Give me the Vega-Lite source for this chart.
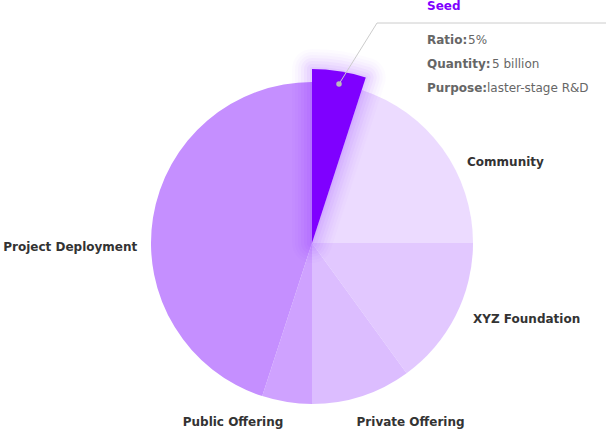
{
  "$schema": "https://vega.github.io/schema/vega-lite/v6.json",
  "width": 588,
  "height": 376,
  "padding": {"left": 18, "top": 55, "right": 0, "bottom": 0},
  "autosize": {"type": "none"},
  "config": {"view": {"stroke": null}, "font": "DejaVu Sans"},
  "layer": [
    {
      "data": {"values": [
        {"name": "Seed", "value": 5},
        {"name": "Community", "value": 20},
        {"name": "XYZ Foundation", "value": 15},
        {"name": "Private Offering", "value": 10},
        {"name": "Public Offering", "value": 5},
        {"name": "Project Deployment", "value": 45}
      ]},
      "transform": [{"window": [{"op": "row_number", "as": "rank"}]}],
      "encoding": {
        "theta": {"field": "value", "type": "quantitative", "stack": true},
        "order": {"field": "rank", "type": "quantitative"},
        "color": {
          "field": "name", "type": "nominal", "legend": null,
          "scale": {
            "domain": ["Seed", "Community", "XYZ Foundation", "Private Offering", "Public Offering", "Project Deployment"],
            "range": ["#7F00FF", "#ECDBFF", "#E2C8FF", "#DCBDFF", "#CFA2FF", "#C58FFF"]
          }
        }
      },
      "layer": [
        {
          "mark": {"type": "arc", "outerRadius": 161},
          "encoding": {"opacity": {"condition": {"test": "datum.name === 'Seed'", "value": 0}, "value": 1}}
        },
        {
          "mark": {"type": "arc", "outerRadius": 174, "fillOpacity": 0, "stroke": "#7F00FF", "strokeWidth": 40, "strokeJoin": "round"},
          "encoding": {"strokeOpacity": {"condition": {"test": "datum.name === 'Seed'", "value": 0.015}, "value": 0}}
        },
        {
          "mark": {"type": "arc", "outerRadius": 174, "fillOpacity": 0, "stroke": "#7F00FF", "strokeWidth": 34, "strokeJoin": "round"},
          "encoding": {"strokeOpacity": {"condition": {"test": "datum.name === 'Seed'", "value": 0.02}, "value": 0}}
        },
        {
          "mark": {"type": "arc", "outerRadius": 174, "fillOpacity": 0, "stroke": "#7F00FF", "strokeWidth": 28, "strokeJoin": "round"},
          "encoding": {"strokeOpacity": {"condition": {"test": "datum.name === 'Seed'", "value": 0.025}, "value": 0}}
        },
        {
          "mark": {"type": "arc", "outerRadius": 174, "fillOpacity": 0, "stroke": "#7F00FF", "strokeWidth": 22, "strokeJoin": "round"},
          "encoding": {"strokeOpacity": {"condition": {"test": "datum.name === 'Seed'", "value": 0.03}, "value": 0}}
        },
        {
          "mark": {"type": "arc", "outerRadius": 174, "fillOpacity": 0, "stroke": "#7F00FF", "strokeWidth": 16, "strokeJoin": "round"},
          "encoding": {"strokeOpacity": {"condition": {"test": "datum.name === 'Seed'", "value": 0.035}, "value": 0}}
        },
        {
          "mark": {"type": "arc", "outerRadius": 174, "fillOpacity": 0, "stroke": "#7F00FF", "strokeWidth": 10, "strokeJoin": "round"},
          "encoding": {"strokeOpacity": {"condition": {"test": "datum.name === 'Seed'", "value": 0.04}, "value": 0}}
        },
        {
          "mark": {"type": "arc", "outerRadius": 174, "fillOpacity": 0, "stroke": "#7F00FF", "strokeWidth": 4, "strokeJoin": "round"},
          "encoding": {"strokeOpacity": {"condition": {"test": "datum.name === 'Seed'", "value": 0.05}, "value": 0}}
        },
        {
          "mark": {"type": "arc", "outerRadius": 174},
          "encoding": {"opacity": {"condition": {"test": "datum.name !== 'Seed'", "value": 0}, "value": 1}}
        },
        {
          "mark": {
            "type": "text", "radius": 183, "fontSize": 12, "fontWeight": "bold", "baseline": "middle",
            "align": {"expr": "datum.name === 'Public Offering' || datum.name === 'Project Deployment' ? 'right' : 'left'"},
            "dx": {"expr": "datum.name === 'Community' ? 7 : datum.name === 'XYZ Foundation' ? -2 : datum.name === 'Private Offering' ? -12 : datum.name === 'Project Deployment' ? 6 : 0"},
            "dy": {"expr": "datum.name === 'Community' ? 27 : datum.name === 'XYZ Foundation' ? -7 : datum.name === 'Private Offering' ? 5 : datum.name === 'Public Offering' ? -2 : datum.name === 'Project Deployment' ? 33 : 0"}
          },
          "encoding": {
            "text": {"condition": {"test": "datum.name === 'Seed'", "value": ""}, "field": "name"},
            "color": {"value": "#333333"}
          }
        }
      ]
    },
    {
      "data": {"values": [
        {"pt": "anchor", "lx": 27, "ly": 159},
        {"pt": "elbow", "lx": 65, "ly": 220, "title": "Seed", "ratio": "5%", "quantity": "5 billion", "purpose": "laster-stage R&D"},
        {"pt": "end", "lx": 294, "ly": 220}
      ]},
      "encoding": {
        "x": {"field": "lx", "type": "quantitative", "scale": {"domain": [-294, 294]}, "axis": null},
        "y": {"field": "ly", "type": "quantitative", "scale": {"domain": [-188, 188]}, "axis": null}
      },
      "layer": [
        {"mark": {"type": "line", "color": "#cccccc", "strokeWidth": 1}},
        {
          "transform": [{"filter": "datum.pt === 'anchor'"}],
          "mark": {"type": "point", "filled": true, "color": "#bbbbbb", "size": 30, "opacity": 1}
        },
        {
          "transform": [{"filter": "datum.pt === 'elbow'"}],
          "layer": [
            {"mark": {"type": "text", "align": "left", "baseline": "alphabetic", "dx": 50, "dy": -13, "fontSize": 12, "fontWeight": "bold", "color": "#7F00FF"}, "encoding": {"text": {"field": "title"}}},
            {"mark": {"type": "text", "align": "left", "baseline": "alphabetic", "dx": 50, "dy": 21, "fontSize": 12, "fontWeight": "bold", "color": "#666666", "text": "Ratio:"}},
            {"mark": {"type": "text", "align": "left", "baseline": "alphabetic", "dx": 91, "dy": 21, "fontSize": 12, "color": "#666666"}, "encoding": {"text": {"field": "ratio"}}},
            {"mark": {"type": "text", "align": "left", "baseline": "alphabetic", "dx": 50, "dy": 45, "fontSize": 12, "fontWeight": "bold", "color": "#666666", "text": "Quantity:"}},
            {"mark": {"type": "text", "align": "left", "baseline": "alphabetic", "dx": 115, "dy": 45, "fontSize": 12, "color": "#666666"}, "encoding": {"text": {"field": "quantity"}}},
            {"mark": {"type": "text", "align": "left", "baseline": "alphabetic", "dx": 50, "dy": 69, "fontSize": 12, "fontWeight": "bold", "color": "#666666", "text": "Purpose:"}},
            {"mark": {"type": "text", "align": "left", "baseline": "alphabetic", "dx": 110, "dy": 69, "fontSize": 12, "color": "#666666"}, "encoding": {"text": {"field": "purpose"}}}
          ]
        }
      ]
    }
  ]
}
